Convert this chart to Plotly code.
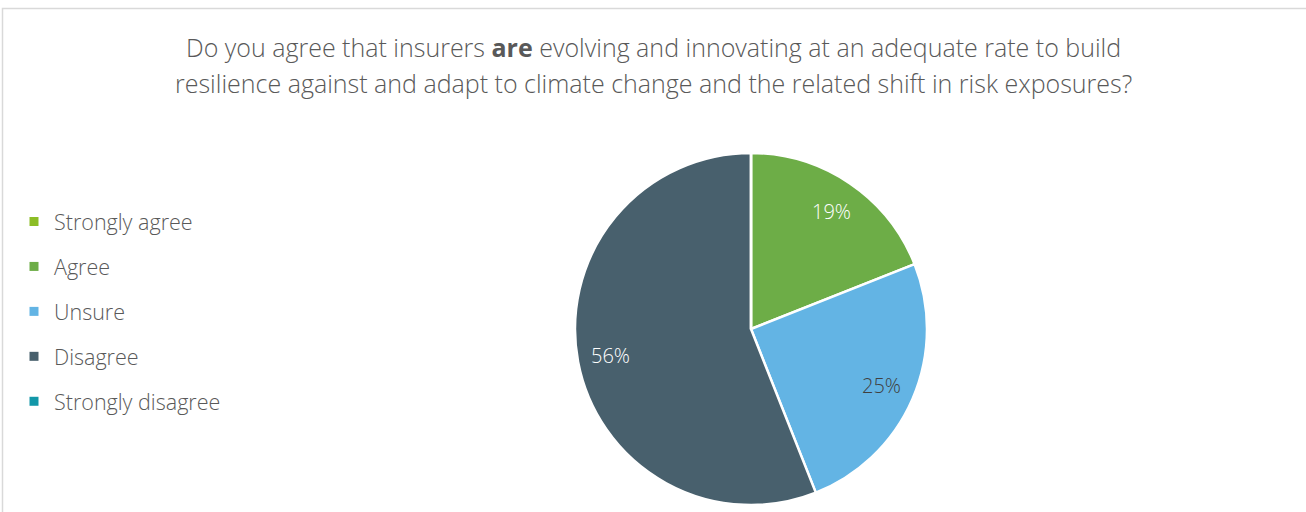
import math
import plotly.graph_objects as go

categories = ["Strongly agree", "Agree", "Unsure", "Disagree", "Strongly disagree"]
values = [0, 19, 25, 56, 0]
colors = ["#8CBD26", "#6DAD47", "#63B4E4", "#48606D", "#1297A8"]
label_colors = ["#FFFFFF", "#FFFFFF", "#404040", "#FFFFFF", "#FFFFFF"]
title_lines = [
    "Do you agree that insurers <b>are</b> evolving and innovating at an adequate rate to build",
    "resilience against and adapt to climate change and the related shift in risk exposures?",
]

W, H = 1306, 512
cx, cy, r = 751, 329, 176
FONT = "Open Sans"

fig = go.Figure()

fig.add_trace(go.Pie(
    labels=categories,
    values=values,
    textinfo="none",
    marker=dict(colors=colors, line=dict(color="white", width=2.5)),
    sort=False,
    direction="clockwise",
    rotation=0,
    domain=dict(x=[(cx - r) / W, (cx + r) / W], y=[1 - (cy + r) / H, 1 - (cy - r) / H]),
    showlegend=False,
))

# legend entries (one group each so the spacing can follow the reference)
for i, (cat, col) in enumerate(zip(categories, colors)):
    fig.add_trace(go.Scatter(
        x=[None], y=[None], mode="markers", name=cat,
        marker=dict(symbol="square", size=9, color=col),
        legendgroup=f"g{i}", showlegend=True,
    ))

annotations = []
# title, two lines
for k, line in enumerate(title_lines):
    annotations.append(dict(
        x=0.5, y=1 - (47 + 36 * k) / H, xref="paper", yref="paper",
        xanchor="center", yanchor="middle", text=line, showarrow=False,
        font=dict(size=25, color="#595959", family=FONT, weight=300),
    ))

# percentage labels placed near the middle angle of each slice
total = sum(values)
cum = 0
for v, lc in zip(values, label_colors):
    if v > 0:
        mid = (cum + v / 2) / total * 2 * math.pi
        rr = 0.81 * r
        px = cx + rr * math.sin(mid)
        py = cy - rr * math.cos(mid)
        annotations.append(dict(
            x=px / W, y=1 - py / H, xref="paper", yref="paper",
            xanchor="center", yanchor="middle",
            text=f"{v}%", showarrow=False,
            font=dict(size=20, color=lc, family=FONT, weight=300),
        ))
    cum += v

fig.update_layout(
    width=W, height=H,
    margin=dict(l=0, r=0, t=0, b=0),
    paper_bgcolor="white",
    plot_bgcolor="white",
    font=dict(family=FONT, color="#595959"),
    xaxis=dict(visible=False),
    yaxis=dict(visible=False),
    legend=dict(
        x=14 / W, xanchor="left", y=1 - 201 / H, yanchor="top",
        font=dict(size=21.5, color="#595959", family=FONT, weight=300),
        tracegroupgap=14,
        bgcolor="rgba(0,0,0,0)",
    ),
    annotations=annotations,
    shapes=[dict(type="rect", xref="paper", yref="paper",
                 x0=2.5 / W, x1=1.1, y0=-0.1, y1=1 - 8.5 / H,
                 line=dict(color="#D9D9D9", width=1.5))],
)

fig.write_html("out.html")
